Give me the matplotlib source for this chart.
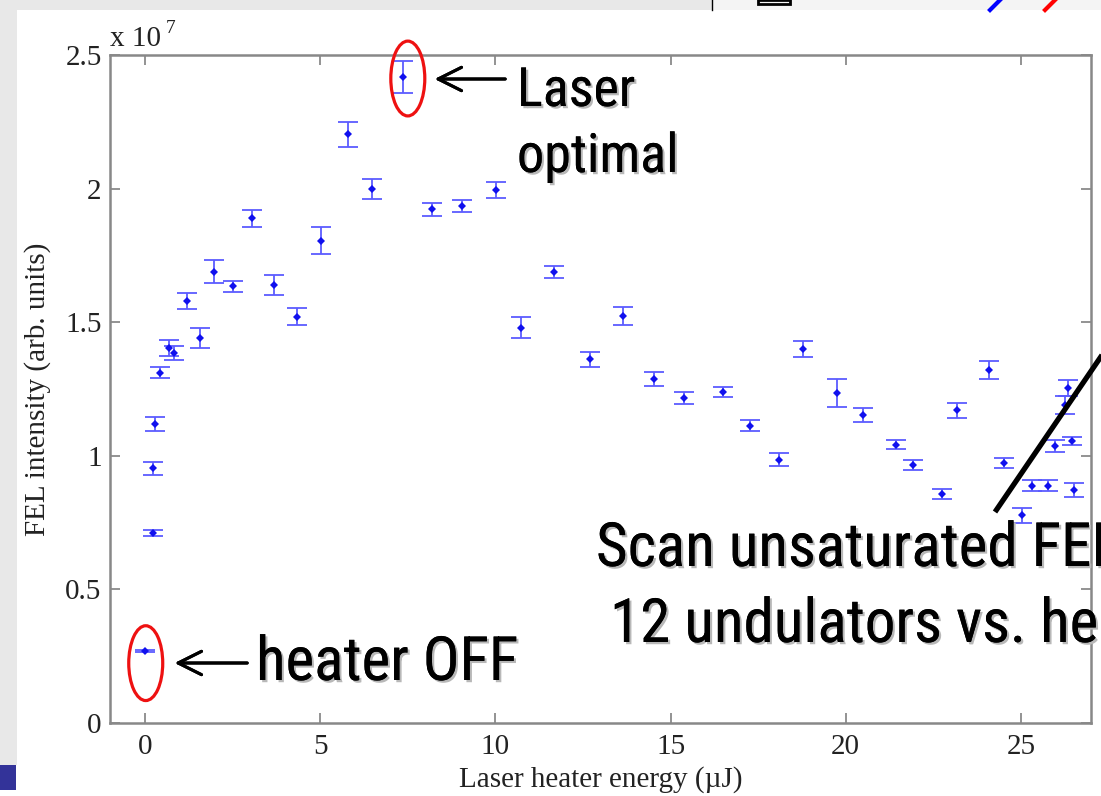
import matplotlib.pyplot as plt
import matplotlib.patheffects as pe
from matplotlib.patches import Ellipse, Rectangle
from matplotlib.lines import Line2D

W, H = 1101, 796

# heater scan: energy (uJ), FEL intensity (x1e7) and its error
energy = [0.0, 0.22, 0.22, 0.29, 0.44, 0.69, 0.84, 1.20, 1.57, 1.98,
          2.52, 3.04, 3.69, 4.35, 5.02, 5.78, 6.49, 7.35, 8.20, 9.06,
          10.03, 10.74, 11.67, 12.71, 13.65, 14.52, 15.37, 16.51, 17.26, 18.09,
          18.77, 19.75, 20.48, 21.43, 21.93, 22.76, 23.18, 24.08, 24.52, 25.04,
          25.32, 25.78, 25.97, 26.35, 26.25, 26.45, 26.52]
intensity = [0.269, 0.712, 0.953, 1.119, 1.311, 1.402, 1.386, 1.580, 1.440, 1.689,
             1.634, 1.889, 1.639, 1.521, 1.805, 2.203, 1.999, 2.417, 1.923, 1.935,
             1.995, 1.480, 1.687, 1.361, 1.523, 1.289, 1.215, 1.240, 1.113, 0.986,
             1.400, 1.234, 1.153, 1.041, 0.964, 0.858, 1.171, 1.321, 0.974, 0.777,
             0.888, 0.888, 1.037, 1.253, 1.190, 1.057, 0.872]
err = [0.005, 0.012, 0.024, 0.027, 0.021, 0.030, 0.026, 0.031, 0.037, 0.042,
       0.020, 0.031, 0.037, 0.031, 0.050, 0.047, 0.038, 0.059, 0.024, 0.023,
       0.031, 0.041, 0.023, 0.029, 0.034, 0.026, 0.022, 0.019, 0.022, 0.023,
       0.031, 0.053, 0.027, 0.017, 0.019, 0.019, 0.028, 0.032, 0.018, 0.028,
       0.020, 0.020, 0.023, 0.030, 0.035, 0.015, 0.026]

xticks = [0, 5, 10, 15, 20, 25]
yticks = [0, 0.5, 1, 1.5, 2, 2.5]
ytick_labels = ['0', '0.5', '1', '1.5', '2', '2.5']

scale = 1e7
y = [v * scale for v in intensity]
e = [v * scale for v in err]

i_opt = 17   # laser optimal point
i_off = 0    # heater off point


def fx(px):
    return px / W


def fy(py):
    return 1 - py / H


serif = ['Liberation Serif', 'DejaVu Serif']
narrow = ['Roboto Condensed', 'PT Sans Narrow', 'DejaVu Sans']
shadow = [pe.withSimplePatchShadow(offset=(1.6, -1.6), shadow_rgbFace='#b8b8b8', alpha=1.0),
          pe.Normal()]

fig = plt.figure(figsize=(W / 100, H / 100), dpi=100, facecolor='white')

# slide background bits around the figure
fig.patches.append(Rectangle((0, fy(765)), fx(17), 1 - fy(765), transform=fig.transFigure,
                             facecolor='#e8e8e8', edgecolor='none', zorder=0))
fig.patches.append(Rectangle((0, fy(10)), fx(712), 1 - fy(10), transform=fig.transFigure,
                             facecolor='#e8e8e8', edgecolor='none', zorder=0))
fig.patches.append(Rectangle((fx(712), fy(10)), fx(W - 712), 1 - fy(10), transform=fig.transFigure,
                             facecolor='#f4f4f4', edgecolor='none', zorder=0))
fig.patches.append(Rectangle((0, fy(790)), fx(16), fy(765) - fy(790), transform=fig.transFigure,
                             facecolor='#333399', edgecolor='none', zorder=0))
fig.lines.append(Line2D([fx(712), fx(712)], [fy(0), fy(10)], transform=fig.transFigure,
                        color='black', lw=1))
fig.patches.append(Rectangle((fx(758), fy(4)), fx(32), fy(0) - fy(4), transform=fig.transFigure,
                             facecolor='none', edgecolor='black', lw=2))
fig.lines.append(Line2D([fx(990), fx(1000)], [fy(10), fy(0)], transform=fig.transFigure,
                        color='blue', lw=3))
fig.lines.append(Line2D([fx(1045), fx(1055)], [fy(10), fy(0)], transform=fig.transFigure,
                        color='red', lw=3))

ax = fig.add_axes([fx(110), fy(723), fx(1091) - fx(110), fy(55) - fy(723)])
ax.errorbar(energy, y, yerr=e, fmt='none', ecolor='#5c5cff', elinewidth=1.3,
            capsize=7, capthick=1.3, zorder=3)
ax.plot(energy, y, ls='none', marker='D', markersize=4, color='#1010ee',
        markeredgewidth=0, zorder=4)

ax.set_xlim(-1, 27)
ax.set_ylim(0, 2.5 * scale)
ax.set_xticks(xticks)
ax.set_yticks([t * scale for t in yticks])
ax.set_yticklabels(ytick_labels)
ax.tick_params(direction='in', length=7, width=1.2, color='#808080',
               top=True, right=True, labelsize=21, labelcolor='#222222')
ax.tick_params(axis='x', pad=8)
ax.tick_params(axis='y', pad=6)
for lab in ax.get_xticklabels() + ax.get_yticklabels():
    lab.set_family(serif)
for sp in ax.spines.values():
    sp.set_color('#888888')
    sp.set_linewidth(1.8)

ax.set_xlabel('Laser heater energy (\u00b5J)', family=serif, fontsize=21,
              color='#222222', labelpad=4)
ax.set_ylabel('FEL intensity (arb. units)', family=serif, fontsize=21,
              color='#222222', labelpad=10)

fig.text(fx(110), fy(46), 'x 10', family=serif, fontsize=21, color='#222222',
         ha='left', va='baseline')
fig.text(fx(166), fy(33), '7', family=serif, fontsize=14, color='#222222',
         ha='left', va='baseline')

# red ellipses around the two highlighted points
ax.add_patch(Ellipse((energy[i_opt] + 0.15, y[i_opt] - 0.005 * scale), 0.97, 0.28 * scale,
                     facecolor='none', edgecolor='#ee1111', lw=2.3, clip_on=False, zorder=5))
ax.add_patch(Ellipse((energy[i_off] + 0.02, y[i_off] - 0.045 * scale), 0.97, 0.28 * scale,
                     facecolor='none', edgecolor='#ee1111', lw=2.3, clip_on=False, zorder=5))

# arrows and slide text
arrow_kw = dict(arrowstyle='->', lw=2.2, color='black', mutation_scale=42)
fig.add_artist(plt.annotate('', xy=(fx(432), fy(79)), xytext=(fx(508), fy(79)),
                            xycoords='figure fraction', arrowprops=arrow_kw))
fig.add_artist(plt.annotate('', xy=(fx(172), fy(663)), xytext=(fx(250), fy(663)),
                            xycoords='figure fraction', arrowprops=arrow_kw))

fig.text(fx(517), fy(106), 'Laser', family=narrow, fontsize=39, ha='left',
         va='baseline', path_effects=shadow)
fig.text(fx(517), fy(172), 'optimal', family=narrow, fontsize=39, ha='left',
         va='baseline', path_effects=shadow)
fig.text(fx(256), fy(680), 'heater OFF', family=narrow, fontsize=44, ha='left',
         va='baseline', path_effects=shadow)
fig.text(fx(596), fy(566), 'Scan unsaturated FEL', family=narrow, fontsize=44,
         ha='left', va='baseline', path_effects=shadow)
fig.text(fx(610), fy(642), '12 undulators vs. heater', family=narrow, fontsize=44,
         ha='left', va='baseline', path_effects=shadow)

fig.lines.append(Line2D([fx(995), fx(1115)], [fy(512), fy(336)], transform=fig.transFigure,
                        color='black', lw=3.8, solid_capstyle='butt'))

fig.savefig('out.png', dpi=100, facecolor='white')
